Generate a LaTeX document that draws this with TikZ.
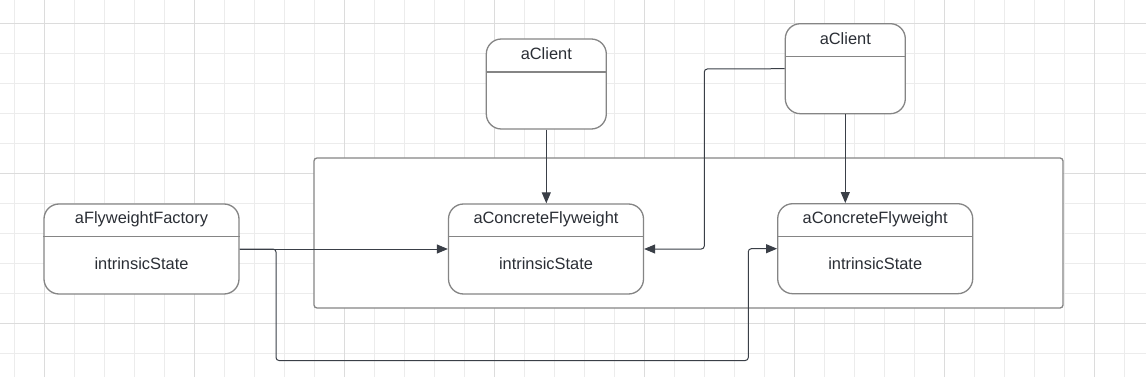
\documentclass[tikz,border=0pt]{standalone}
\usepackage{fontspec}
\setmainfont{Liberation Sans}
\usetikzlibrary{arrows.meta}
\definecolor{gridminor}{HTML}{ECECEC}
\definecolor{gridmajor}{HTML}{DCDCDC}
\definecolor{boxline}{HTML}{858585}
\definecolor{wire}{HTML}{3A3F47}
\definecolor{txt}{HTML}{2A2E35}
\tikzset{
  minorline/.style={draw=gridminor, line width=0.9pt},
  majorline/.style={draw=gridmajor, line width=1pt},
  umlbox/.style={draw=boxline, fill=white, line width=1.3pt, rounded corners=15pt, minimum height=90pt, inner sep=0pt},
  divider/.style={draw=boxline, line width=1.3pt},
  lbl/.style={text=txt, font=\fontsize{16.4}{20}\selectfont, inner sep=0pt},
  wireline/.style={draw=wire, line width=1pt, rounded corners=3pt},
  arr/.style={-{Triangle[length=11pt,width=9pt]}, wire},
}
\begin{document}
\begin{tikzpicture}[x=1pt,y=-1pt]
\useasboundingbox (0,0) rectangle (1146,377);
\fill[white] (0,0) rectangle (1146,377);
% grid
\foreach \i in {0,...,37} {\draw[minorline] ({14.3+30*\i},0) -- ({14.3+30*\i},377);}
\foreach \i in {0,...,11} {\draw[minorline] (0,{23.3+30*\i}) -- (1146,{23.3+30*\i});}
\foreach \i in {1,6,...,36} {\draw[majorline] ({14.3+30*\i},0) -- ({14.3+30*\i},377);}
\foreach \i in {0,5,10} {\draw[majorline] (0,{23.3+30*\i}) -- (1146,{23.3+30*\i});}
% container
\node[draw=boxline, fill=white, line width=1.3pt, rounded corners=3pt, minimum width=749pt, minimum height=150pt, inner sep=0pt] (cont) at (688.5,233) {};
% boxes
\node[umlbox, minimum width=195pt] (fac) at (141.5,249) {};
\node[umlbox, minimum width=120pt] (cl1) at (546.3,84) {};
\node[umlbox, minimum width=120pt] (cl2) at (845.3,68.7) {};
\node[umlbox, minimum width=195pt] (cf1) at (546,249) {};
\node[umlbox, minimum width=195pt] (cf2) at (875.2,248.7) {};
% dividers
\draw[divider] (fac.west |- 0,236.7) -- (fac.east |- 0,236.7);
\draw[divider] (cl1.west |- 0,72) -- (cl1.east |- 0,72);
\draw[divider] (cl2.west |- 0,56.7) -- (cl2.east |- 0,56.7);
\draw[divider] (cf1.west |- 0,236.7) -- (cf1.east |- 0,236.7);
\draw[divider] (cf2.west |- 0,236.7) -- (cf2.east |- 0,236.7);
% labels
\node[lbl] (facT) at (141.5,219) {aFlyweightFactory};
\node[lbl] (facB) at (141.5,263.5) {intrinsicState};
\node[lbl] (cl1T) at (546.3,53.5) {aClient};
\node[lbl] (cl2T) at (845.3,38.5) {aClient};
\node[lbl] (cf1T) at (546,219) {aConcreteFlyweight};
\node[lbl] (cf1B) at (546,263.5) {intrinsicState};
\node[lbl] (cf2T) at (875.2,219) {aConcreteFlyweight};
\node[lbl] (cf2B) at (875.2,263.5) {intrinsicState};
% connector corner points
\coordinate (k1) at (704.3,69);
\coordinate (k2) at (276,360.5);
\coordinate (k3) at (748.3,360.5);
% connectors
\draw[wireline, arr] (cl1.south) -- (cl1.south |- cf1.north);
\draw[wireline, arr] (cl2.south) -- (cl2.south |- cf2.north);
\draw[wireline, arr] (cl2.west) -- (k1) |- (cf1.east);
\draw[wireline, arr] (fac.east) -- (cf1.west);
\draw[wireline, arr] (fac.east) -| (k2) -- (k3) |- (cf2.west);
\end{tikzpicture}
\end{document}
